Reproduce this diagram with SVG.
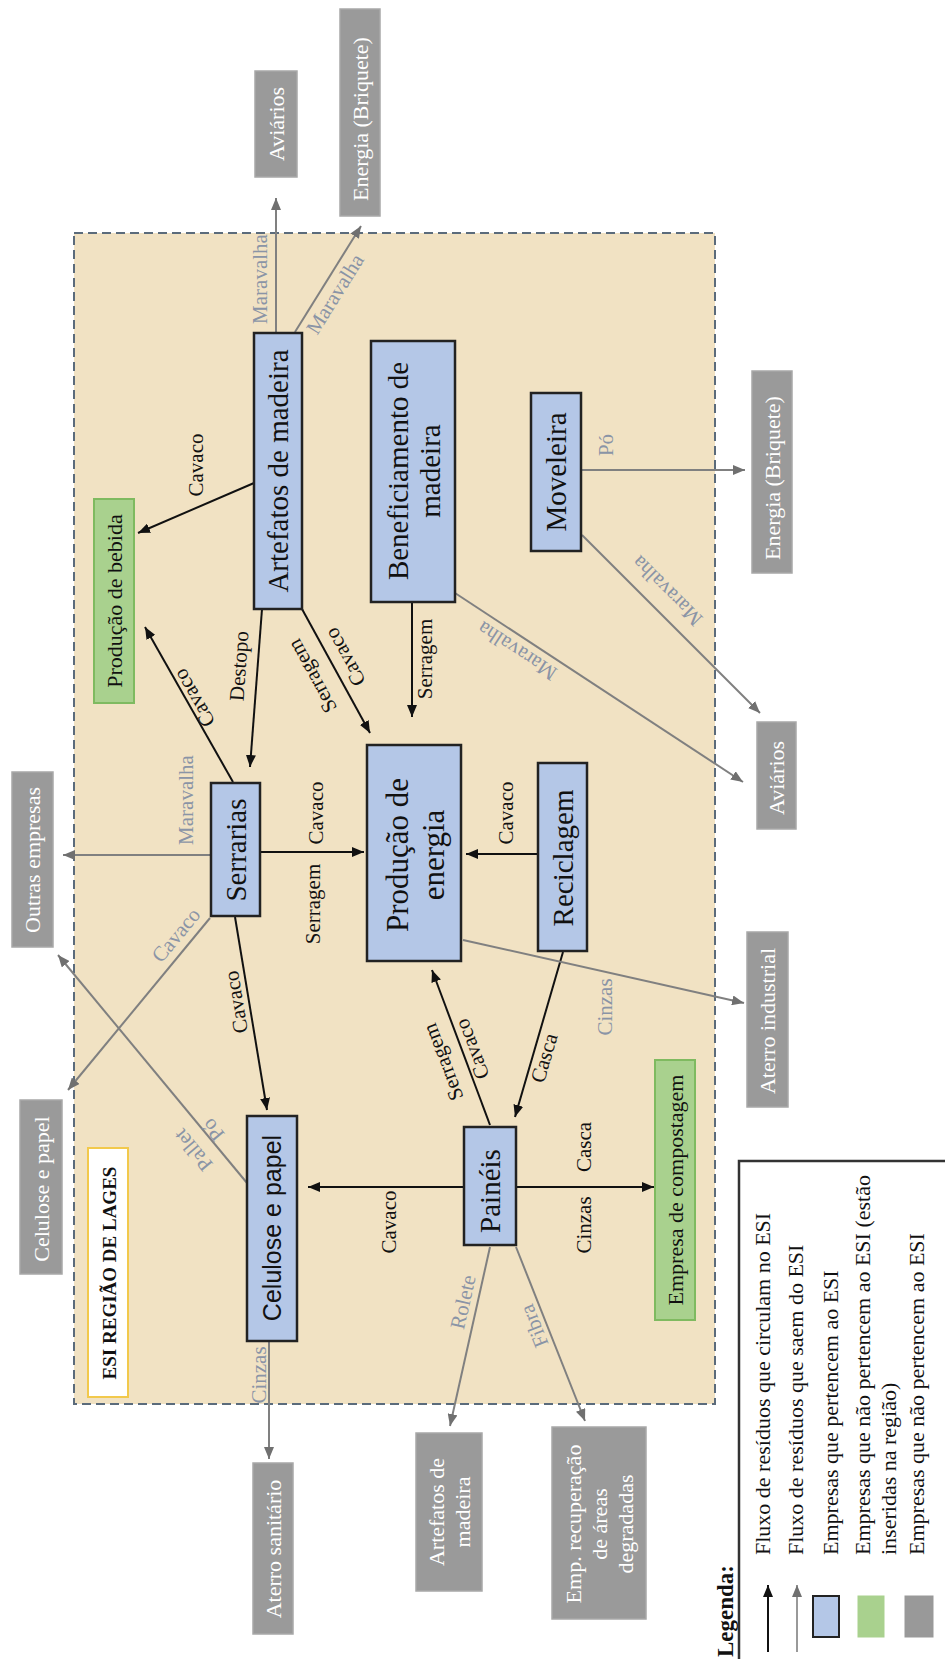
<svg xmlns="http://www.w3.org/2000/svg" width="945" height="1659" viewBox="0 0 945 1659">
<style>
.t{font-family:"Liberation Serif","Times New Roman",serif;text-anchor:middle;dominant-baseline:central}
.ts{font-family:"Liberation Sans",Arial,sans-serif;text-anchor:middle;dominant-baseline:central}
.st{font-family:"Liberation Serif","Times New Roman",serif;text-anchor:start;dominant-baseline:central}
.blue{fill:#b4c7e7;stroke:#222;stroke-width:2.5}
.green{fill:#a9d18e;stroke:#7fba60;stroke-width:2}
.gray{fill:#9a9a9a;stroke:#a8a8a8;stroke-width:1.5}
.nt{font-size:29px;fill:#111}
.gt{font-size:22px;fill:#fff}
.bt{font-size:21px;fill:#111}
.lt{font-size:21px;fill:#8a94a6}
.cb{stroke:#111;stroke-width:2;fill:none;marker-end:url(#ab)}
.cg{stroke:#808080;stroke-width:2;fill:none;marker-end:url(#ag)}
.leg{font-size:22px;fill:#111}
</style>
<defs>
<marker id="ab" markerUnits="userSpaceOnUse" markerWidth="12" markerHeight="10" refX="12" refY="5" orient="auto"><path d="M0,0 L12,5 L0,10 z" fill="#111"/></marker>
<marker id="ag" markerUnits="userSpaceOnUse" markerWidth="12" markerHeight="10" refX="12" refY="5" orient="auto"><path d="M0,0 L12,5 L0,10 z" fill="#707070"/></marker>
</defs>
<rect width="945" height="1659" fill="#fff"/>
<g id="esi-area">
<rect x="74" y="233" width="641" height="1171" fill="#f1e2c3" stroke="#5b6b7b" stroke-width="2" stroke-dasharray="9 5"/>
</g>
<g id="esi-title">
<rect x="88" y="1148" width="40" height="249" fill="#fff" stroke="#f2c94c" stroke-width="2"/>
<text class="t" x="109" y="1273" transform="rotate(-90 109 1273)" font-size="19" font-weight="bold" fill="#111">ESI REGIÃO DE LAGES</text>
</g>
<g id="connectors">
<path class="cb" d="M254,483 L138,533"/>
<path class="cb" d="M233,782 L145,627"/>
<path class="cb" d="M262,609 L250,767"/>
<path class="cb" d="M302,609 L370,733"/>
<path class="cb" d="M412,602 L412,717"/>
<path class="cb" d="M260,852 L364,852"/>
<path class="cb" d="M538,854 L466,854"/>
<path class="cb" d="M235,917 L267,1110"/>
<path class="cb" d="M464,1187 L308,1187"/>
<path class="cb" d="M516,1187 L654,1187"/>
<path class="cb" d="M563,952 L515,1117"/>
<path class="cb" d="M490,1125 L432,970"/>
<path class="cg" d="M276,333 L276,198"/>
<path class="cg" d="M295,332 L361,226"/>
<path class="cg" d="M581,470 L745,470"/>
<path class="cg" d="M582,535 L760,713"/>
<path class="cg" d="M455,593 L743,782"/>
<path class="cg" d="M463,940 L744,1003"/>
<path class="cg" d="M211,855 L63,855"/>
<path class="cg" d="M210,918 L68,1090"/>
<path class="cg" d="M247,1183 L58,955"/>
<path class="cg" d="M269,1341 L269,1459"/>
<path class="cg" d="M490,1247 L450,1426"/>
<path class="cg" d="M516,1247 L585,1421"/>
<text class="t bt" x="196" y="465" transform="rotate(-90 196 465)">Cavaco</text>
<text class="t bt" x="194" y="698" transform="rotate(-119.6 194 698)">Cavaco</text>
<text class="t bt" x="239" y="666" transform="rotate(-86 239 666)">Destopo</text>
<text class="t bt" x="312" y="676" transform="rotate(-118.7 312 676)">Serragem</text>
<text class="t bt" x="345" y="657" transform="rotate(-118.7 345 657)">Cavaco</text>
<text class="t bt" x="425" y="659" transform="rotate(-90 425 659)">Serragem</text>
<text class="t bt" x="316" y="813" transform="rotate(-90 316 813)">Cavaco</text>
<text class="t bt" x="313" y="904" transform="rotate(-90 313 904)">Serragem</text>
<text class="t bt" x="506" y="813" transform="rotate(-90 506 813)">Cavaco</text>
<text class="t bt" x="236" y="1002" transform="rotate(-99.5 236 1002)">Cavaco</text>
<text class="t bt" x="389" y="1222" transform="rotate(-90 389 1222)">Cavaco</text>
<text class="t bt" x="584" y="1147" transform="rotate(-90 584 1147)">Casca</text>
<text class="t bt" x="584" y="1225" transform="rotate(-90 584 1225)">Cinzas</text>
<text class="t bt" x="544" y="1058" transform="rotate(-73.6 544 1058)">Casca</text>
<text class="t bt" x="443" y="1062" transform="rotate(-110.8 443 1062)">Serragem</text>
<text class="t bt" x="472" y="1049" transform="rotate(-110.8 472 1049)">Cavaco</text>
<text class="t lt" x="260" y="279" transform="rotate(-90 260 279)">Maravalha</text>
<text class="t lt" x="335" y="294" transform="rotate(-58 335 294)">Maravalha</text>
<text class="t lt" x="606" y="445" transform="rotate(-90 606 445)">Pó</text>
<text class="t lt" x="667" y="591" transform="rotate(-135 667 591)">Maravalha</text>
<text class="t lt" x="517" y="651" transform="rotate(-146.8 517 651)">Maravalha</text>
<text class="t lt" x="605" y="1007" transform="rotate(-90 605 1007)">Cinzas</text>
<text class="t lt" x="186" y="800" transform="rotate(-90 186 800)">Maravalha</text>
<text class="t lt" x="176" y="935" transform="rotate(-50.5 176 935)">Cavaco</text>
<text class="t lt" x="213" y="1130" transform="rotate(-129.7 213 1130)">Pó</text>
<text class="t lt" x="193" y="1150" transform="rotate(-129.7 193 1150)">Pallet</text>
<text class="t lt" x="259" y="1375" transform="rotate(-90 259 1375)">Cinzas</text>
<text class="t lt" x="463" y="1302" transform="rotate(-77.3 463 1302)">Rolete</text>
<text class="t lt" x="534" y="1326" transform="rotate(-111.7 534 1326)">Fibra</text>
</g>
<g id="n-artefatos">
<rect class="blue" x="254" y="333" width="48" height="276"/>
<text class="t nt" x="278" y="471" transform="rotate(-90 278 471)">Artefatos de madeira</text>
</g>
<g id="n-beneficiamento">
<rect class="blue" x="371" y="341" width="84" height="261"/>
<text class="t nt" x="398" y="471" transform="rotate(-90 398 471)">Beneficiamento de</text>
<text class="t nt" x="430" y="471" transform="rotate(-90 430 471)">madeira</text>
</g>
<g id="n-moveleira">
<rect class="blue" x="531" y="393" width="50" height="158"/>
<text class="t nt" x="556" y="472" transform="rotate(-90 556 472)">Moveleira</text>
</g>
<g id="n-serrarias">
<rect class="blue" x="211" y="783" width="49" height="133"/>
<text class="t nt" x="235.5" y="850" transform="rotate(-90 235.5 850)">Serrarias</text>
</g>
<g id="n-producao-energia">
<rect class="blue" x="367" y="745" width="94" height="216"/>
<text class="t" x="397" y="855" transform="rotate(-90 397 855)" font-size="31" fill="#111">Produção de</text>
<text class="t" x="433" y="855" transform="rotate(-90 433 855)" font-size="31" fill="#111">energia</text>
</g>
<g id="n-reciclagem">
<rect class="blue" x="538" y="763" width="49" height="188"/>
<text class="t nt" x="562.5" y="858" transform="rotate(-90 562.5 858)">Reciclagem</text>
</g>
<g id="n-celulose">
<rect class="blue" x="247" y="1116" width="50" height="225"/>
<text class="ts" x="272" y="1228" transform="rotate(-90 272 1228)" font-size="25" fill="#111">Celulose e papel</text>
</g>
<g id="n-paineis">
<rect class="blue" x="464" y="1127" width="52" height="118"/>
<text class="t nt" x="490" y="1191" transform="rotate(-90 490 1191)">Painéis</text>
</g>
<g id="n-bebida">
<rect class="green" x="94" y="499" width="40" height="204"/>
<text class="t" x="114" y="601" transform="rotate(-90 114 601)" font-size="22" fill="#111">Produção de bebida</text>
</g>
<g id="n-compostagem">
<rect class="green" x="655" y="1060" width="40" height="260"/>
<text class="t" x="675" y="1190" transform="rotate(-90 675 1190)" font-size="22" fill="#111">Empresa de compostagem</text>
</g>
<g id="n-avi1">
<rect class="gray" x="255" y="71" width="42" height="106"/>
<text class="t gt" x="276" y="124" transform="rotate(-90 276 124)">Aviários</text>
</g>
<g id="n-energia1">
<rect class="gray" x="340" y="9" width="40" height="207"/>
<text class="t gt" x="360" y="119" transform="rotate(-90 360 119)">Energia (Briquete)</text>
</g>
<g id="n-energia2">
<rect class="gray" x="752" y="371" width="40" height="202"/>
<text class="t gt" x="772" y="478" transform="rotate(-90 772 478)">Energia (Briquete)</text>
</g>
<g id="n-avi2">
<rect class="gray" x="757" y="722" width="39" height="107"/>
<text class="t gt" x="776.5" y="778" transform="rotate(-90 776.5 778)">Aviários</text>
</g>
<g id="n-aterro-ind">
<rect class="gray" x="747" y="932" width="41" height="175"/>
<text class="t gt" x="767.5" y="1021" transform="rotate(-90 767.5 1021)">Aterro industrial</text>
</g>
<g id="n-outras">
<rect class="gray" x="12" y="772" width="41" height="175"/>
<text class="t gt" x="32.5" y="860" transform="rotate(-90 32.5 860)">Outras empresas</text>
</g>
<g id="n-celulose-ext">
<rect class="gray" x="20" y="1100" width="42" height="174"/>
<text class="t gt" x="41" y="1189" transform="rotate(-90 41 1189)">Celulose e papel</text>
</g>
<g id="n-aterro-san">
<rect class="gray" x="253" y="1463" width="40" height="171"/>
<text class="t gt" x="273" y="1549" transform="rotate(-90 273 1549)">Aterro sanitário</text>
</g>
<g id="n-artefatos-ext">
<rect class="gray" x="416" y="1433" width="66" height="158"/>
<text class="t gt" x="436" y="1512" transform="rotate(-90 436 1512)">Artefatos de</text>
<text class="t gt" x="462" y="1512" transform="rotate(-90 462 1512)">madeira</text>
</g>
<g id="n-recuperacao">
<rect class="gray" x="552" y="1427" width="94" height="192"/>
<text class="t gt" x="573" y="1524" transform="rotate(-90 573 1524)">Emp. recuperação</text>
<text class="t gt" x="599" y="1524" transform="rotate(-90 599 1524)">de áreas</text>
<text class="t gt" x="625" y="1524" transform="rotate(-90 625 1524)">degradadas</text>
</g>
<g id="legend">
<text class="st" x="725" y="1657" transform="rotate(-90 725 1657)" font-size="23" font-weight="bold" fill="#111">Legenda:</text>
<path d="M739,1659 L739,1161 L945,1161" fill="none" stroke="#333" stroke-width="2.5"/>
<path d="M768,1652 L768,1585" stroke="#111" stroke-width="2" marker-end="url(#ab)"/>
<path d="M797,1652 L797,1585" stroke="#999" stroke-width="2" marker-end="url(#ag)"/>
<rect x="813" y="1596" width="26" height="41" fill="#b4c7e7" stroke="#222" stroke-width="2"/>
<rect x="858" y="1596" width="26" height="41" fill="#a9d18e" stroke="#a9d18e" stroke-width="1"/>
<rect x="905" y="1596" width="28" height="41" fill="#999" stroke="#999" stroke-width="1"/>
<text class="st leg" x="762" y="1555" transform="rotate(-90 762 1555)">Fluxo de resíduos que circulam no ESI</text>
<text class="st leg" x="795" y="1555" transform="rotate(-90 795 1555)">Fluxo de resíduos que saem do ESI</text>
<text class="st leg" x="830" y="1555" transform="rotate(-90 830 1555)">Empresas que pertencem ao ESI</text>
<text class="st leg" x="862" y="1555" transform="rotate(-90 862 1555)">Empresas que não pertencem ao ESI (estão</text>
<text class="st leg" x="888" y="1555" transform="rotate(-90 888 1555)">inseridas na região)</text>
<text class="st leg" x="916" y="1555" transform="rotate(-90 916 1555)">Empresas que não pertencem ao ESI</text>
</g>
</svg>
